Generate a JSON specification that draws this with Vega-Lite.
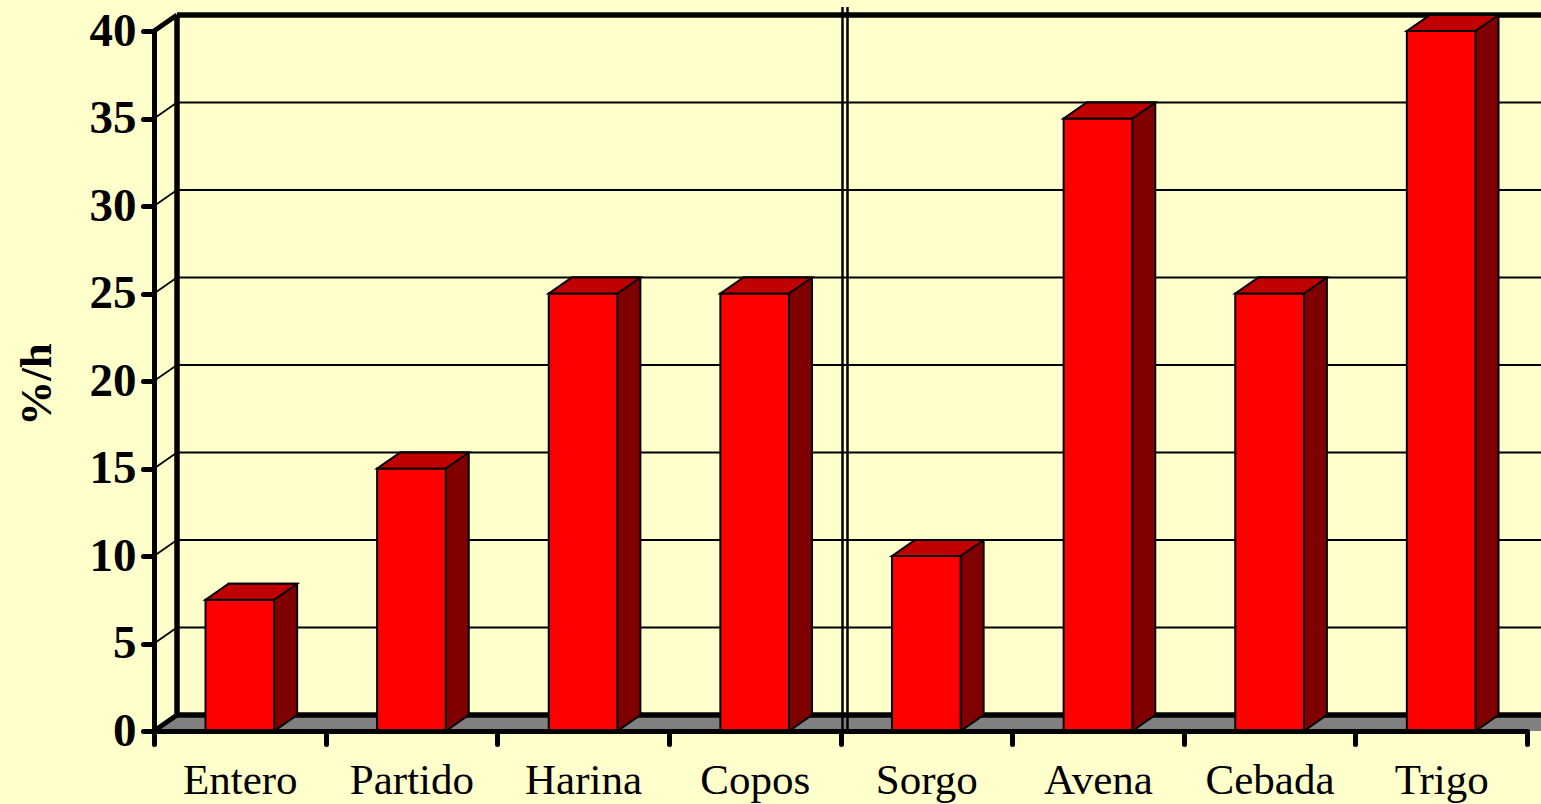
{
 "$schema": "https://vega.github.io/schema/vega-lite/v6.json",
 "width": 1373, "height": 700,
 "autosize": {"type": "none"},
 "padding": {"left": 154, "top": 31, "right": 14, "bottom": 73},
 "background": "#FFFFCC",
 "config": {"view": {"stroke": null}, "font": "Liberation Serif", "axis": {"grid": false}},
 "datasets": {
  "barras": [
   {"grano": "Entero", "v": 7.5},
   {"grano": "Partido", "v": 15},
   {"grano": "Harina", "v": 25},
   {"grano": "Copos", "v": 25},
   {"grano": "Sorgo", "v": 10},
   {"grano": "Avena", "v": 35},
   {"grano": "Cebada", "v": 25},
   {"grano": "Trigo", "v": 40}
  ],
  "rejilla": [{"v": 5}, {"v": 10}, {"v": 15}, {"v": 20}, {"v": 25}, {"v": 30}, {"v": 35}],
  "bordes": [{"v": 0}, {"v": 40}],
  "base": [{"v": 0}]
 },
 "layer": [
  {
   "data": {"name": "rejilla"},
   "mark": {"type": "rule", "color": "black", "strokeWidth": 1.8, "x2Offset": 23, "y2Offset": -16},
   "encoding": {
    "x": {"datum": "Entero", "type": "nominal", "bandPosition": 0},
    "x2": {"datum": "Entero", "bandPosition": 0},
    "y": {"field": "v", "type": "quantitative"},
    "y2": {"field": "v"}
   }
  },
  {
   "data": {"name": "rejilla"},
   "mark": {"type": "rule", "color": "black", "strokeWidth": 2, "xOffset": 23, "x2Offset": 30, "yOffset": -16},
   "encoding": {
    "x": {"datum": "Entero", "type": "nominal", "bandPosition": 0},
    "x2": {"datum": "Trigo", "bandPosition": 1},
    "y": {"field": "v", "type": "quantitative"}
   }
  },
  {
   "data": {"name": "base"},
   "mark": {"type": "rule", "color": "#808080", "strokeWidth": 16, "strokeCap": "butt", "x2Offset": 30, "yOffset": -8},
   "encoding": {
    "x": {"datum": "Entero", "type": "nominal", "bandPosition": 0},
    "x2": {"datum": "Trigo", "bandPosition": 1},
    "y": {"field": "v", "type": "quantitative"}
   }
  },
  {
   "data": {"name": "base"},
   "mark": {"type": "point", "shape": "M0,0 L23,-16 L0,-16 Z", "size": 4, "filled": true, "fill": "#FFFFCC", "strokeWidth": 0, "opacity": 1},
   "encoding": {
    "x": {"datum": "Entero", "type": "nominal", "bandPosition": 0},
    "y": {"field": "v", "type": "quantitative"}
   }
  },
  {
   "data": {"name": "bordes"},
   "mark": {"type": "rule", "color": "black", "strokeWidth": 5, "x2Offset": 23, "y2Offset": -16},
   "encoding": {
    "x": {"datum": "Entero", "type": "nominal", "bandPosition": 0},
    "x2": {"datum": "Entero", "bandPosition": 0},
    "y": {"field": "v", "type": "quantitative"},
    "y2": {"field": "v"}
   }
  },
  {
   "data": {"name": "bordes"},
   "mark": {"type": "rule", "color": "black", "strokeWidth": 5.5, "xOffset": 23, "x2Offset": 30, "yOffset": -16},
   "encoding": {
    "x": {"datum": "Entero", "type": "nominal", "bandPosition": 0},
    "x2": {"datum": "Trigo", "bandPosition": 1},
    "y": {"field": "v", "type": "quantitative"}
   }
  },
  {
   "data": {"name": "base"},
   "mark": {"type": "rule", "color": "black", "strokeWidth": 5.5, "xOffset": 23, "yOffset": -16, "y2Offset": -16},
   "encoding": {
    "x": {"datum": "Entero", "type": "nominal", "bandPosition": 0},
    "y": {"datum": 0, "type": "quantitative"},
    "y2": {"datum": 40}
   }
  },
  {
   "data": {"name": "base"},
   "mark": {"type": "rule", "color": "black", "strokeWidth": 2.5, "xOffset": 2, "yOffset": -24, "y2Offset": -2},
   "encoding": {
    "x": {"datum": "Sorgo", "type": "nominal", "bandPosition": 0},
    "y": {"datum": 40, "type": "quantitative"},
    "y2": {"datum": 0}
   }
  },
  {
   "data": {"name": "base"},
   "mark": {"type": "rule", "color": "black", "strokeWidth": 2.5, "xOffset": 7, "yOffset": -24, "y2Offset": -2},
   "encoding": {
    "x": {"datum": "Sorgo", "type": "nominal", "bandPosition": 0},
    "y": {"datum": 40, "type": "quantitative"},
    "y2": {"datum": 0}
   }
  },
  {
   "data": {"name": "barras"},
   "mark": {"type": "bar", "width": {"band": 0.4}, "fill": "#800000", "stroke": "black", "strokeWidth": 2, "xOffset": 23, "x2Offset": 23, "yOffset": -16, "y2Offset": -16},
   "encoding": {
    "x": {"field": "grano", "type": "nominal"},
    "y": {"field": "v", "type": "quantitative"}
   }
  },
  {
   "data": {"name": "barras"},
   "mark": {"type": "point", "shape": "M57.3,-18 L57.3,-16 L34.3,0 L34.3,-18", "size": 4, "filled": true, "fill": "#800000", "stroke": "black", "strokeWidth": 2, "opacity": 1},
   "encoding": {
    "x": {"field": "grano", "type": "nominal"},
    "y": {"datum": 0, "type": "quantitative"}
   }
  },
  {
   "data": {"name": "barras"},
   "mark": {"type": "bar", "width": {"band": 0.4}, "fill": "#FF0000", "stroke": "black", "strokeWidth": 2},
   "encoding": {
    "x": {"field": "grano", "type": "nominal", "sort": ["Entero","Partido","Harina","Copos","Sorgo","Avena","Cebada","Trigo"], "scale": {"domain": ["Entero","Partido","Harina","Copos","Sorgo","Avena","Cebada","Trigo"], "paddingInner": 0, "paddingOuter": 0}, "axis": {"title": null, "zindex": 1, "tickBand": "extent", "labelAngle": 0, "labelAlign": "center", "labelBaseline": "alphabetic", "labelFont": "Liberation Serif", "labelFontSize": 43, "labelColor": "black", "tickColor": "black", "tickSize": 13, "tickWidth": 5, "tickCap": "round", "domainColor": "black", "domainWidth": 5, "labelPadding": 49}},
    "y": {"field": "v", "type": "quantitative", "scale": {"domain": [0, 40]}, "axis": {"title": "%/h", "zindex": 1, "values": [0, 5, 10, 15, 20, 25, 30, 35, 40], "grid": false, "labelAlign": "right", "labelBaseline": "middle", "labelFont": "Liberation Serif", "labelFontSize": 47, "labelFontWeight": "bold", "labelColor": "black", "labelPadding": 7, "tickColor": "black", "tickSize": 11, "tickWidth": 5, "tickCap": "round", "domainColor": "black", "domainWidth": 5, "titleFont": "Liberation Serif", "titleFontSize": 45, "titleFontWeight": "bold", "titleColor": "black", "titlePadding": 30, "titleY": 353}}
   }
  },
  {
   "data": {"name": "barras"},
   "mark": {"type": "point", "shape": "M-34.3,0 L34.3,0 L57.3,-16 L-11.3,-16 Z", "size": 4, "filled": true, "fill": "#C00000", "stroke": "black", "strokeWidth": 2, "opacity": 1},
   "encoding": {
    "x": {"field": "grano", "type": "nominal"},
    "y": {"field": "v", "type": "quantitative"}
   }
  }
 ]
}
